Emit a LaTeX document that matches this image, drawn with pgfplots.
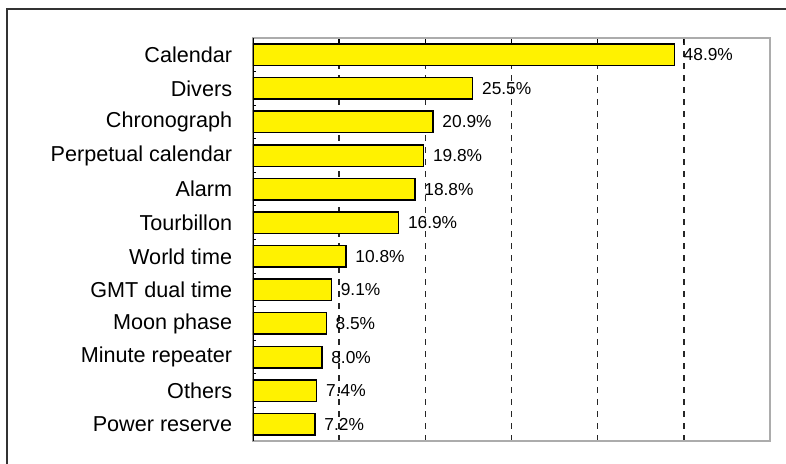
\documentclass[border=0pt]{standalone}
\usepackage{pgfplots}
\pgfplotsset{compat=1.18}
\usepackage{fontspec}
\setmainfont{Liberation Sans}
\begin{document}
\begin{tikzpicture}[x=0.75pt,y=0.75pt]
\begin{axis}[
  name=ax,
  at={(0,0)}, anchor=south west,
  scale only axis, width=387.75pt, height=302.25pt,
  xbar, bar width=0.64,
  xmin=0, xmax=60, ymin=-0.5, ymax=11.5,
  ytick={0,...,11},
  yticklabels={Power reserve,Others,Minute repeater,Moon phase,GMT dual time,World time,Tourbillon,Alarm,Perpetual calendar,Chronograph,Divers,Calendar},
  minor ytick={-0.5,0.5,...,11.5},
  ytick pos=left, xtick pos=right,
  tick align=inside,
  major y tick style={draw=none},
  minor y tick style={black, line width=0.75pt},
  minor tick length=2.5pt,
  xtick={10,20,30,40,50}, xticklabels={},
  major x tick style={black, line width=1pt},
  major tick length=3.75pt,
  xmajorgrids,
  major x grid style={black!85, dash pattern=on 4.5pt off 4.5pt, line width=1.2pt},
  axis line style={gray!65, line width=1.5pt},
  yticklabel style={font=\fontsize{16.2}{17}\selectfont, anchor=east, inner sep=0pt, xshift=-15.5pt},
  /pgf/number format/assume math mode=true,
  nodes near coords={\pgfmathprintnumber[fixed,fixed zerofill,precision=1]{\pgfplotspointmeta}\%},
  every node near coord/.append style={anchor=west, inner sep=0pt, xshift=6.5pt, font=\fontsize{13}{13}\selectfont, black},
]
\addplot[fill=yellow, draw=black, line width=1.1pt] coordinates {
  (7.2,0) (7.4,1) (8.0,2) (8.5,3) (9.1,4) (10.8,5) (16.9,6) (18.8,7) (19.8,8) (20.9,9) (25.5,10) (48.9,11)
};
\draw[black, line width=1.1pt] (rel axis cs:0,0) -- (rel axis cs:0,1);
\end{axis}
\pgfresetboundingbox
\path[use as bounding box] ([shift={(-253,-23)}]ax.south west) rectangle ++(786,464);
\draw[line width=1.5pt, black!80] ([shift={(-246,-23)}]ax.south west) -- ++(0,455) -- ++(779,0);
\end{tikzpicture}
\end{document}
